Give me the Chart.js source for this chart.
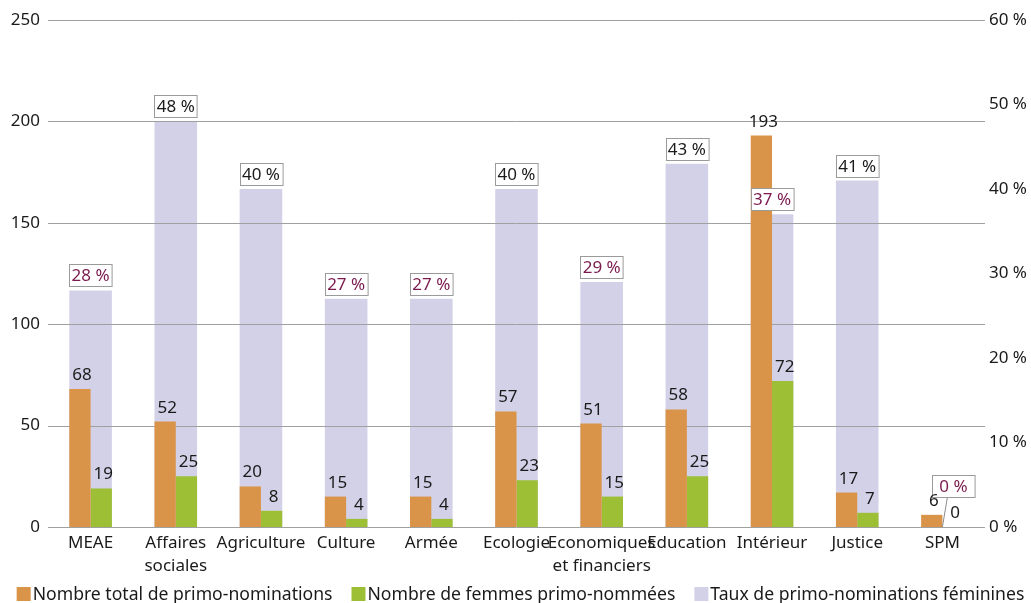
<!DOCTYPE html>
<html lang="fr">
<head>
<meta charset="utf-8">
<title>Primo-nominations par ministère</title>
<script src="https://cdn.jsdelivr.net/npm/chart.js@4/dist/chart.umd.min.js"></script>
<style>
  html, body { margin: 0; padding: 0; background: #ffffff; }
  #wrap { position: relative; width: 1031px; height: 603px; }
</style>
</head>
<body>
<div id="wrap"><canvas id="chart" width="1031" height="603"></canvas></div>
<script>
// Ministries
const categories = ['MEAE', ['Affaires', 'sociales'], 'Agriculture', 'Culture', 'Armée', 'Ecologie',
  ['Economiques', 'et financiers'], 'Education', 'Intérieur', 'Justice', 'SPM'];
// Number of first appointments, all and women only
const totalNominations = [68, 52, 20, 15, 15, 57, 51, 58, 193, 17, 6];
const womenNominated = [19, 25, 8, 4, 4, 23, 15, 25, 72, 7, 0];
// Share of women among first appointments (%)
const womenRate = [28, 48, 40, 27, 27, 40, 29, 43, 37, 41, 0];
// Axis ticks
const countTicks = [0, 50, 100, 150, 200, 250];
const rateTicks = [0, 10, 20, 30, 40, 50, 60];
const seriesNames = ['Nombre total de primo-nominations', 'Nombre de femmes primo-nommées',
  'Taux de primo-nominations féminines'];
// Legal target: rates below it are highlighted
const QUOTA = 40;

const COLORS = { total: '#DA9449', women: '#9DBF35', rate: '#D3D1E7', text: '#1a1a1a', alert: '#7A1A4E', grid: '#a0a0a0' };
const FONT = "'Noto Sans', sans-serif";

Chart.defaults.font.family = FONT;
Chart.defaults.font.size = 17;
Chart.defaults.color = COLORS.text;

const overlay = {
  id: 'overlay',
  // horizontal grid lines go over the rate bars but under the count bars
  afterDatasetDraw(chart, args) {
    if (args.index !== 2) return;
    const { ctx, chartArea, scales: { y } } = chart;
    ctx.save();
    ctx.strokeStyle = COLORS.grid;
    ctx.lineWidth = 1;
    countTicks.forEach(v => {
      const py = Math.round(y.getPixelForValue(v)) + 0.5;
      ctx.beginPath();
      ctx.moveTo(chartArea.left, py);
      ctx.lineTo(chartArea.right, py);
      ctx.stroke();
    });
    ctx.restore();
  },
  afterDatasetsDraw(chart) {
    const { ctx } = chart;
    ctx.save();
    ctx.font = '17px ' + FONT;
    ctx.textAlign = 'center';
    // boxed rate labels
    const rates = chart.data.datasets[2].data;
    chart.getDatasetMeta(2).data.forEach((bar, i) => {
      const v = rates[i];
      const w = bar.width, h = 22;
      let cx = bar.x, bottom = bar.y - 4;
      if (v === 0) {
        // no bar to sit on: lift the box aside with a leader line
        cx = bar.x + 11;
        bottom = bar.y - 30;
        ctx.strokeStyle = '#8c8c8c';
        ctx.lineWidth = 1;
        ctx.beginPath();
        ctx.moveTo(cx - 6, bottom);
        ctx.lineTo(bar.x, bar.y);
        ctx.stroke();
      }
      const left = Math.round(cx - w / 2) + 0.5, top = Math.round(bottom - h) + 0.5;
      ctx.fillStyle = '#ffffff';
      ctx.fillRect(left, top, w, h);
      ctx.strokeStyle = '#9a9a9a';
      ctx.lineWidth = 1;
      ctx.strokeRect(left, top, w, h);
      ctx.fillStyle = v < QUOTA ? COLORS.alert : COLORS.text;
      ctx.textBaseline = 'middle';
      ctx.fillText(v + ' %', cx, top + h / 2 + 1);
    });
    // count labels above the bars
    [0, 1].forEach(di => {
      const values = chart.data.datasets[di].data;
      chart.getDatasetMeta(di).data.forEach((bar, i) => {
        ctx.fillStyle = COLORS.text;
        ctx.textBaseline = 'alphabetic';
        ctx.fillText(String(values[i]), bar.x + 2, bar.y - 9);
      });
    });
    ctx.restore();
  },
  afterDraw(chart) {
    // legend row along the bottom edge
    const { ctx } = chart;
    const colors = [COLORS.total, COLORS.women, COLORS.rate];
    ctx.save();
    ctx.font = '17.6px ' + FONT;
    const box = 14, gap = 2, spacing = 19;
    const widths = seriesNames.map(n => ctx.measureText(n).width);
    const total = widths.reduce((a, w) => a + box + gap + w, 0) + spacing * (seriesNames.length - 1);
    let x = 520.5 - total / 2;
    const baseline = 600;
    seriesNames.forEach((name, i) => {
      ctx.fillStyle = colors[i];
      ctx.fillRect(x, baseline - 13, box, box);
      ctx.fillStyle = COLORS.text;
      ctx.textAlign = 'left';
      ctx.textBaseline = 'alphabetic';
      ctx.fillText(name, x + box + gap, baseline);
      x += box + gap + widths[i] + spacing;
    });
    ctx.restore();
  }
};

new Chart(document.getElementById('chart'), {
  type: 'bar',
  data: {
    labels: categories,
    datasets: [
      { label: seriesNames[0], data: totalNominations, backgroundColor: COLORS.total, yAxisID: 'y', order: 1,
        categoryPercentage: 0.5, barPercentage: 1 },
      { label: seriesNames[1], data: womenNominated, backgroundColor: COLORS.women, yAxisID: 'y', order: 1,
        categoryPercentage: 0.5, barPercentage: 1 },
      // rate bars sit behind each pair, spanning both
      { label: seriesNames[2], data: womenRate, backgroundColor: COLORS.rate, yAxisID: 'y2', order: 2,
        grouped: false, categoryPercentage: 0.5, barPercentage: 1 }
    ]
  },
  options: {
    responsive: false,
    animation: false,
    layout: { padding: { top: 20, left: 0, right: 0, bottom: 0 } },
    plugins: { legend: { display: false }, tooltip: { enabled: false } },
    scales: {
      x: {
        type: 'category', offset: true,
        grid: { display: false, drawTicks: false }, border: { display: false },
        ticks: { autoSkip: false, maxRotation: 0, padding: 4, color: COLORS.text, font: { size: 17, lineHeight: 1.38 } },
        afterFit: s => { s.height = 76; }
      },
      y: {
        position: 'left', min: 0, max: 250,
        grid: { display: false, drawTicks: false }, border: { display: false },
        ticks: { padding: 8, color: COLORS.text, font: { size: 17 } },
        afterBuildTicks: s => { s.ticks = countTicks.map(v => ({ value: v })); },
        afterFit: s => { s.width = 48; }
      },
      y2: {
        position: 'right', min: 0, max: 60,
        grid: { display: false, drawTicks: false }, border: { display: false },
        ticks: { padding: 4, color: COLORS.text, font: { size: 17 }, callback: v => v + ' %' },
        afterBuildTicks: s => { s.ticks = rateTicks.map(v => ({ value: v })); },
        afterFit: s => { s.width = 46; }
      }
    }
  },
  plugins: [overlay]
});
</script>
</body>
</html>
